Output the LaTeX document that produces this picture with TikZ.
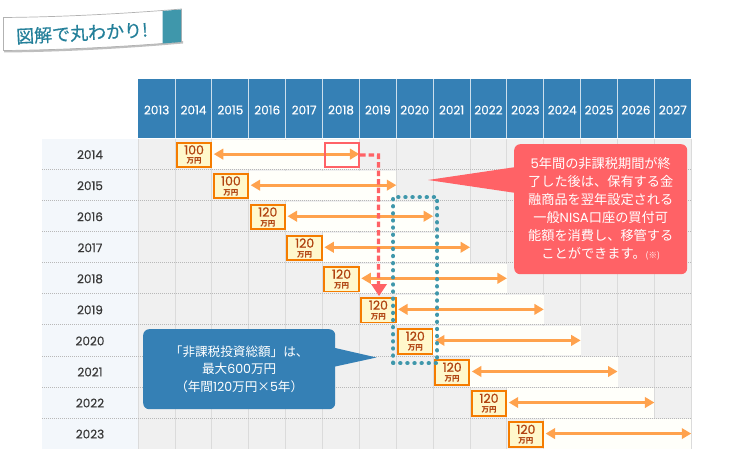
\documentclass[tikz,border=0pt]{standalone}
\usepackage{fontspec}
\setmainfont{Noto Sans CJK JP}
\newfontfamily\dg{Poppins}
\newfontfamily\dgm{Poppins}[FakeBold=0.5]
\newfontfamily\dgb{Poppins}[FakeBold=0.9]
\newfontfamily\jpm{Noto Sans CJK JP}[FakeBold=0.5]
\usetikzlibrary{arrows.meta,calc}
\definecolor{hdrblue}{HTML}{3580B5}
\definecolor{pinkred}{HTML}{FF6266}
\definecolor{tealdot}{HTML}{3F97AB}
\definecolor{arrorange}{HTML}{FFA24D}
\definecolor{boxorange}{HTML}{F57C00}
\definecolor{boxfill}{HTML}{FFF8CC}
\definecolor{boxtext}{HTML}{B0420F}
\definecolor{bandtext}{HTML}{24809A}
\tikzset{
  yearhead/.style={text=white,font=\dgm\fontsize{12}{12}\selectfont,inner sep=0pt,anchor=center},
  rowlabel/.style={text=black!78,font=\dgm\fontsize{12}{12}\selectfont,inner sep=0pt,anchor=center},
  amountbox/.style={draw=boxorange,line width=1.9pt,fill=boxfill,minimum width=34.5pt,minimum height=24.5pt,inner sep=0pt,anchor=north west,align=center,text=boxtext},
  spanarrow/.style={draw=arrorange,line width=3pt,{Triangle[length=9.5pt,width=10.5pt]}-{Triangle[length=9.5pt,width=10.5pt]},shorten <=0.5pt},
  callouttext/.style={text=white,align=center,inner sep=0pt,font=\fontsize{13.2}{18}\selectfont},
  gridv/.style={draw=black!14,line width=0.9pt},
  gridh/.style={draw=black!28,line width=0.9pt,dash pattern=on 1pt off 1pt},
}
\begin{document}
\begin{tikzpicture}[x=1pt,y=-1pt]
\useasboundingbox (0,0) rectangle (730,465);
\def\colw{36.87}\def\rowh{31.05}\def\gx{138.2}\def\gy{138.6}
% background
\fill[black!6] (\gx,\gy) rectangle (691,449);
\fill[hdrblue!6] (42,\gy) rectangle (\gx,449);
\foreach \c in {0,...,15}{\draw[gridv] ({\gx+\c*\colw},\gy) -- ({\gx+\c*\colw},449);}
% stripes behind the spans
\foreach \r in {0,...,9}{
  \fill[white!98!yellow] ({\gx+(\r+2)*\colw},{\gy+\r*\rowh+1}) rectangle ({min(\gx+(\r+6)*\colw,691)},{\gy+(\r+1)*\rowh-0.5});
}
\foreach \r in {1,...,9}{\draw[gridh] (42,{\gy+\r*\rowh}) -- (691,{\gy+\r*\rowh});}
% header
\fill[hdrblue] (\gx,79) rectangle (691,138);
\foreach \c [evaluate=\c as \yr using int(2013+\c)] in {0,...,14}{
  \node[yearhead] (head\yr) at ({\gx+(\c+0.5)*\colw},110) {\yr};
  \ifnum\c>0 \draw[white!75!hdrblue,line width=0.9pt] ({\gx+\c*\colw},79) -- ({\gx+\c*\colw},138);\fi
}
% rows
\foreach \r [evaluate=\r as \yr using int(2014+\r)] in {0,...,9}{
  \node[rowlabel] (row\yr) at (90,{\gy+(\r+0.5)*\rowh+0.5}) {\yr};
}
% amount boxes and spans
\foreach \r/\a in {0/100,1/100,2/120,3/120,4/120,5/120,6/120,7/120,8/120,9/120}{
  \node[amountbox] (box\r) at ({\gx+(\r+1)*\colw+0.8},{\gy+\r*\rowh+3.2}) {\raisebox{-1pt}{\dgb\fontsize{12.5}{10}\selectfont \a}\\[-1.5pt]\fontsize{7.5}{7}\selectfont\rmfamily\bfseries 万円};
  \coordinate (end\r) at ({\gx+(\r+6)*\colw},{\gy+(\r+0.5)*\rowh});
  \draw[spanarrow] (box\r.east |- end\r) ++(1,0) coordinate (start\r) -- (end\r);
}
% pink marker and transfer route
\node[draw=pinkred,line width=2.2pt,minimum width=34pt,minimum height=24pt,inner sep=0pt,anchor=north west] (mark) at (324,142) {};
\coordinate (turn) at (378.5,155);
\draw[pinkred,line width=3.2pt,dash pattern=on 5.5pt off 3pt] (mark.east) -- (turn) -- ++(0,129) coordinate (headbase);
\fill[pinkred] (371,284) -- (387,284) -- (379,296) -- cycle;
% teal dotted frame
\node[draw=tealdot,line width=4.4pt,line cap=round,dash pattern=on 0.01pt off 7.1pt,minimum width=44pt,minimum height=166pt,inner sep=0pt,anchor=north west] (frame) at (391,195) {};
% red callout
\fill[pinkred] (428,180) -- (516,167) -- (516,193) -- cycle;
\node[fill=pinkred,rounded corners=6pt,minimum width=173pt,minimum height=130pt,inner sep=0pt,anchor=north west] (redbox) at (514,144) {};
\node[callouttext] (redtext) at (redbox.center) {{\dg 5}年間の非課税期間が終\\了した後は、保有する金\\融商品を翌年設定される\\一般{\dg NISA}口座の買付可\\能額を消費し、移管する\\ことができます。{\fontsize{8.5}{10}\selectfont (※)}};
% blue callout
\fill[hdrblue] (376.5,357.5) -- (333,347.5) -- (333,367) -- cycle;
\node[fill=hdrblue,rounded corners=6pt,minimum width=192pt,minimum height=80pt,inner sep=0pt,anchor=north west] (bluebox) at (143,329) {};
\node[callouttext,font=\fontsize{12.6}{17.5}\selectfont] (bluetext) at (bluebox.center) {「非課税投資総額」は、\\最大{\dg 600}万円\\（年間{\dg 120}万円×{\dg 5}年）};
% title banner
\fill[black!25] (4,52.5) .. controls (60,52) and (120,49) .. (183,43.5) -- (183,41) -- (4,49) -- cycle;
\draw[black!30,fill=white,line width=0.7pt] (3.5,17.5) .. controls (60,17) and (120,14) .. (181.5,9) -- (181.5,42) .. controls (120,47) and (60,50) .. (3.5,50.5) -- cycle;
\fill[tealdot] (162.5,11) -- (181,9.5) -- (181,42) -- (162.5,43.5) -- cycle;
\node[text=bandtext,font=\jpm\fontsize{18}{20}\selectfont,rotate=3,inner sep=0pt] (title) at (82,33) {図解で丸わかり!};
\end{tikzpicture}
\end{document}
